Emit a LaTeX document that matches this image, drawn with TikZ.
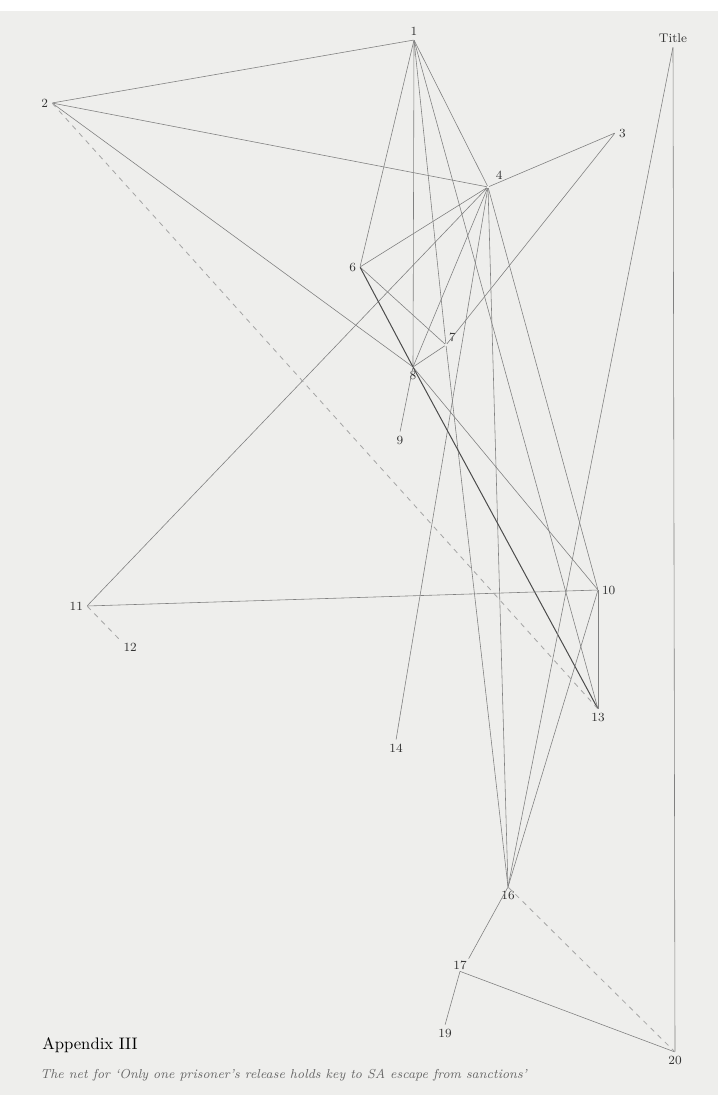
\documentclass[tikz,border=0pt]{standalone}
\usepackage{xcolor}
\usepackage{tikz}
\usetikzlibrary{positioning}

\definecolor{paper}{RGB}{238,238,236}

\begin{document}
\begin{tikzpicture}[
    x=0.6pt, y=-0.6pt,
    pt/.style={inner sep=0pt, minimum size=0pt, label={[lbl]#1}},
    lbl/.style={font=\fontsize{7.5}{8}\selectfont, text=black!80, inner sep=1pt, label distance=1pt},
    tie/.style={draw=black!50, line width=0.35pt},
    darktie/.style={draw=black!70, line width=0.6pt},
    weak/.style={draw=black!35, line width=0.5pt, dash pattern=on 3pt off 3pt}
]
\useasboundingbox (0,0) rectangle (718,1095);
\fill[paper] (0,11) rectangle (718,1095);

% Points of the net, numbered as printed.
\node[pt={above:1}] (n1) at (414,40) {};
\node[pt={left:2}] (n2) at (52,103) {};
\node[pt={right:3}] (n3) at (615,133) {};
\node[inner sep=0pt, label={[lbl, label distance=4pt]above right:4}] (n4) at (488,187) {};
\node[pt={left:6}] (n6) at (360,267) {};
\node[inner sep=0pt, label={[lbl, label distance=0pt]above right:7}] (n7) at (446,345) {};
\node[pt={below:8}] (n8) at (413,367) {};
\node[pt={below:9}] (n9) at (400,432) {};
\node[pt={right:10}] (n10) at (598,590) {};
\node[pt={left:11}] (n11) at (87,606) {};
\node[pt={below right:12}] (n12) at (120,640) {};
\node[pt={below:13}] (n13) at (598,709) {};
\node[pt={below:14}] (n14) at (396,740) {};
\node[pt={below:16}] (n16) at (508,887) {};
\node[lbl] (n17) at (460,965) {17};
\node[pt={below:19}] (n19) at (445,1025) {};
\node[pt={below:20}] (n20) at (675,1052) {};
\node[pt={above:Title}] (title) at (673,47) {};

% Caption block.
\node[anchor=base west, inner sep=0pt, font=\fontsize{10}{12}\selectfont] (appx) at (42,1049) {Appendix III};
\node[anchor=base west, inner sep=0pt, font=\fontsize{7.8}{9}\selectfont\itshape, text=black!60] (capt) at (40,1078)
    {The net for `Only one prisoner's release holds key to SA escape from sanctions'};

% Links from the top points.
\draw[tie] (n1) -- (n2);
\draw[tie] (n1) -- (n4);
\draw[tie] (n1) -- (n6);
\draw[tie] (n1) -- (n8);
\draw[tie] (n1) -- (n7);
\draw[tie] (n1) -- (n13);
\draw[tie] (n2) -- (n4);
\draw[tie] (n2) -- (n8);
\draw[tie] (n3) -- (n4);
\draw[tie] (n3) -- (n7);

% Links out of 4.
\draw[tie] (n4) -- (n6);
\draw[tie] (n4) -- (n8);
\draw[tie] (n4) -- (n11);
\draw[tie] (n4) -- (n14);
\draw[tie] (n4) -- (n16);
\draw[tie] (n4) -- (n10);

% Middle cluster.
\draw[tie] (n6) -- (n7);
\draw[darktie] (n6) -- (n8);
\draw[tie] (n7) -- (n8);
\draw[tie] (n7) -- (n16);
\draw[tie] (n8) -- (n9);
\draw[tie] (n8) -- (n10);
\draw[darktie] (n8) -- (n13);

% Lower points.
\draw[tie] (n11) -- (n10);
\draw[tie] (n10) -- (n13);
\draw[tie] (n10) -- (n16);
\draw[tie] (title) -- (n16);
\draw[tie] (title) -- (n20);
\draw[tie] (n16) -- (n17.north east);
\draw[tie] (n17.south) -- (n19);
\draw[tie] (n17.south) -- (n20);

% Dashed links.
\draw[weak] (n2) -- (n13);
\draw[weak] (n11) -- (n12);
\draw[weak] (n16) -- (n20);

\end{tikzpicture}
\end{document}
